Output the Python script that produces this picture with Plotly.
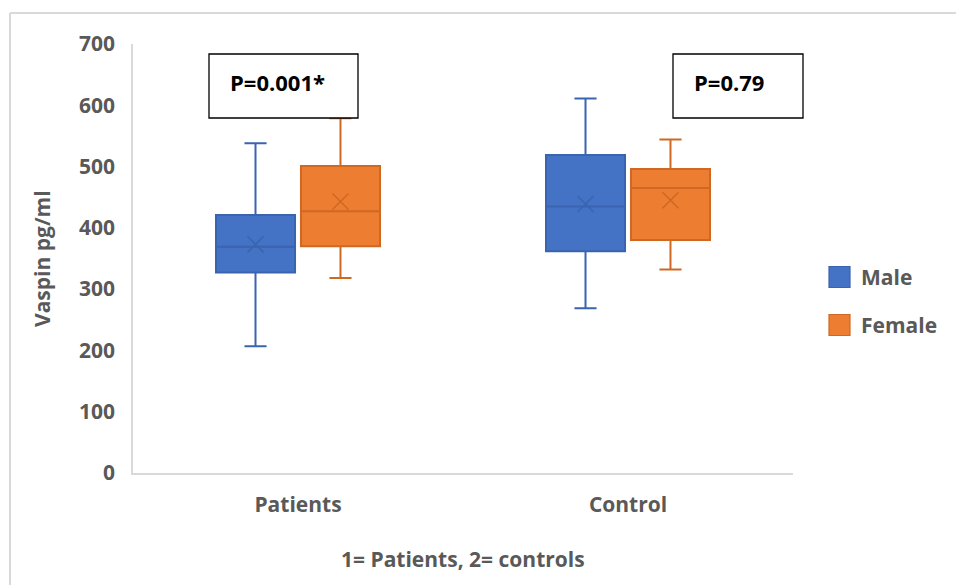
import plotly.graph_objects as go

categories = ["Patients", "Control"]
groups = ["Male", "Female"]

male_low = [207, 269]
male_q1 = [327, 362]
male_median = [369, 435]
male_q3 = [421, 519]
male_high = [538, 611]
male_mean = [373, 439]

female_low = [318, 332]
female_q1 = [370, 380]
female_median = [427, 465]
female_q3 = [501, 496]
female_high = [579, 544]
female_mean = [443, 445]

p_labels = ["P=0.001*", "P=0.79"]

y_ticks = [0, 100, 200, 300, 400, 500, 600, 700]

W, H = 956, 585
L, R, T, B = 133, 793, 44, 473

def px(x):
    return (x - L) / (R - L)

def py(y):
    return (B - y) / (B - T)

GRAY = "#595959"
FONT = "Open Sans"

fig = go.Figure()

series = [
    ("Male", "#4472C4", "#3A64B0", male_low, male_q1, male_median, male_q3, male_high, male_mean),
    ("Female", "#ED7D31", "#CF6822", female_low, female_q1, female_median, female_q3, female_high, female_mean),
]

for name, fill, line, lo, q1, med, q3, hi, mean in series:
    fig.add_trace(go.Box(
        name=name, x=categories, q1=q1, median=med, q3=q3,
        lowerfence=lo, upperfence=hi,
        fillcolor=fill, line=dict(color=line, width=2),
        whiskerwidth=0.28, offsetgroup=name, boxpoints=False,
        hoverinfo="skip", showlegend=False,
    ))

for name, fill, line, lo, q1, med, q3, hi, mean in series:
    fig.add_trace(go.Scatter(
        x=categories, y=mean, mode="markers", offsetgroup=name,
        marker=dict(symbol="x-thin", size=16, line=dict(color=line, width=1.5)),
        showlegend=False, hoverinfo="skip",
    ))

annotations = []
# P-value boxes
box_pos = [(209, 358), (673, 803)]
for (x0, x1), lab in zip(box_pos, p_labels):
    fig.add_shape(type="rect", xref="paper", yref="paper",
                  x0=px(x0), x1=px(x1), y0=py(118), y1=py(54),
                  line=dict(color="#000000", width=1.3), fillcolor="white", layer="above")
    annotations.append(dict(xref="paper", yref="paper", x=px(x0 + 19), y=py(82),
                            xanchor="left", yanchor="middle", showarrow=False,
                            text="<b>%s</b>" % lab,
                            font=dict(family=FONT, size=22, color="#000000")))

# legend (drawn as shapes + text)
legend_y = [277, 325]
for (name, fill, line, *_), yc in zip(series, legend_y):
    fig.add_shape(type="rect", xref="paper", yref="paper",
                  x0=px(829), x1=px(850), y0=py(yc + 10.5), y1=py(yc - 10.5),
                  line=dict(color=line, width=1.2), fillcolor=fill)
    annotations.append(dict(xref="paper", yref="paper", x=px(859), y=py(yc),
                            xanchor="left", yanchor="middle", showarrow=False,
                            text="<b>%s</b>" % name,
                            font=dict(family=FONT, size=21, color=GRAY)))

# frame lines
fig.add_shape(type="line", xref="paper", yref="paper", x0=px(10), x1=px(958), y0=py(13), y1=py(13),
              line=dict(color="#D9D9D9", width=2))
fig.add_shape(type="line", xref="paper", yref="paper", x0=px(10), x1=px(10), y0=py(13), y1=py(590),
              line=dict(color="#D9D9D9", width=2))

annotations.append(dict(xref="paper", yref="paper", x=px(463), y=py(559), xanchor="center", yanchor="middle",
                        showarrow=False, text="<b>1= Patients, 2= controls</b>",
                        font=dict(family=FONT, size=21, color=GRAY)))
annotations.append(dict(xref="paper", yref="paper", x=px(42), y=py(259), xanchor="center", yanchor="middle",
                        showarrow=False, text="<b>Vaspin pg/ml</b>", textangle=-90,
                        font=dict(family=FONT, size=21, color=GRAY)))

fig.update_layout(
    width=W, height=H,
    margin=dict(l=L, r=W - R, t=T, b=H - B),
    paper_bgcolor="white", plot_bgcolor="white",
    boxmode="group", boxgap=0.485, boxgroupgap=0.07,
    scattermode="group", scattergap=0.485,
    font=dict(family=FONT, color=GRAY),
    showlegend=False,
    annotations=annotations,
    xaxis=dict(type="category", categoryorder="array", categoryarray=categories,
               showline=True, linecolor="#D9D9D9", linewidth=1.5, showgrid=False, zeroline=False,
               ticks="", tickfont=dict(family=FONT, size=21, color=GRAY),
               tickvals=categories, ticktext=["<b>%s</b>" % c for c in categories], ticklabelstandoff=12),
    yaxis=dict(range=[0, 700], tickvals=y_ticks, ticktext=["<b>%d</b>" % v for v in y_ticks],
               showline=True, linecolor="#D9D9D9", linewidth=1.5, showgrid=False, zeroline=False,
               ticks="", tickfont=dict(family=FONT, size=21, color=GRAY), ticklabelstandoff=12),
)

fig.write_html("out.html", config={"displayModeBar": False},
               post_script="document.body.style.margin='0';document.body.style.overflow='hidden';")
